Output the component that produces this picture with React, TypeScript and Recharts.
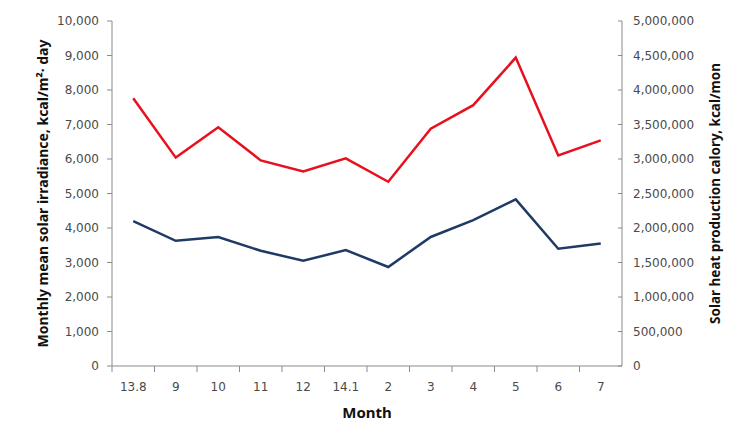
import { LineChart, Line, XAxis, YAxis } from "recharts";

const months = ["13.8", "9", "10", "11", "12", "14.1", "2", "3", "4", "5", "6", "7"];
// monthly mean solar irradiance, kcal/m²·day (left axis)
const irradiance = [4200, 3630, 3740, 3340, 3050, 3360, 2870, 3740, 4230, 4830, 3400, 3550];
// solar heat production, kcal/mon (right axis)
const production = [
  3880000, 3020000, 3460000, 2980000, 2820000, 3010000, 2670000, 3440000, 3780000, 4470000,
  3050000, 3270000,
];
const leftTicks = [0, 1000, 2000, 3000, 4000, 5000, 6000, 7000, 8000, 9000, 10000];
const rightTicks = [
  0, 500000, 1000000, 1500000, 2000000, 2500000, 3000000, 3500000, 4000000, 4500000, 5000000,
];

const W = 738;
const H = 433;
const LEFT_W = 112;
const RIGHT_W = 116;
const BAND = (W - LEFT_W - RIGHT_W) / months.length;

const tickFont = "'DejaVu Sans', sans-serif";
const titleFont = "'Noto Sans', sans-serif";
const axisGray = "#8a8a8a";
const textGray = "#4a4a4a";

const fmt = (v: number) => v.toLocaleString("en-US");

function XTick({ x, y, payload }: any) {
  return (
    <g>
      <line x1={x - BAND / 2} x2={x - BAND / 2} y1={y} y2={y + 6} stroke={axisGray} />
      <text x={x} y={y + 21} dy="0.35em" textAnchor="middle" fontSize={12} fontFamily={tickFont} fill={textGray}>
        {payload.value}
      </text>
    </g>
  );
}

function LeftTick({ x, y, payload }: any) {
  return (
    <g>
      <line x1={x - 5} x2={x} y1={y} y2={y} stroke={axisGray} />
      <text x={x - 13} y={y} dy="0.35em" textAnchor="end" fontSize={12} fontFamily={tickFont} fill={textGray}>
        {fmt(payload.value)}
      </text>
    </g>
  );
}

function RightTick({ x, y, payload }: any) {
  return (
    <g>
      <line x1={x - 4} x2={x} y1={y} y2={y} stroke={axisGray} />
      <text x={x + 11} y={y} dy="0.35em" textAnchor="start" fontSize={12} fontFamily={tickFont} fill={textGray}>
        {fmt(payload.value)}
      </text>
    </g>
  );
}

export default function App() {
  const data = months.map((m, i) => ({ month: m, irradiance: irradiance[i], production: production[i] }));

  return (
    <div style={{ position: "absolute", left: 0, top: 0, width: W, height: H, background: "#fff" }}>
      <LineChart width={W} height={H} data={data} margin={{ top: 21, right: 0, bottom: 0, left: 0 }}>
        <XAxis
          dataKey="month"
          height={67}
          padding={{ left: BAND / 2, right: BAND / 2 }}
          stroke={axisGray}
          tickLine={false}
          tickSize={0}
          tickMargin={0}
          tick={<XTick />}
          interval={0}
          label={{
            value: "Month",
            position: "center",
            dy: 13,
            style: { fontFamily: titleFont, fontWeight: 700, fontSize: 15, fill: "#111" },
          }}
        />
        <YAxis
          yAxisId="left"
          orientation="left"
          width={LEFT_W}
          domain={[0, 10000]}
          ticks={leftTicks}
          stroke={axisGray}
          tickLine={false}
          tickSize={0}
          tickMargin={0}
          tick={<LeftTick />}
          interval={0}
          label={{
            value: "Monthly mean solar irradiance,  kcal/m²· day",
            angle: -90,
            position: "center",
            dx: -13,
            style: { fontFamily: titleFont, fontWeight: 700, fontSize: 14, fill: "#111" },
          }}
        />
        <YAxis
          yAxisId="right"
          orientation="right"
          width={RIGHT_W}
          domain={[0, 5000000]}
          ticks={rightTicks}
          stroke={axisGray}
          tickLine={false}
          tickSize={0}
          tickMargin={0}
          tick={<RightTick />}
          interval={0}
          label={{
            value: "Solar heat production calory,  kcal/mon",
            angle: -90,
            position: "center",
            dx: 35,
            style: { fontFamily: titleFont, fontWeight: 700, fontSize: 13.5, fill: "#111" },
          }}
        />
        <Line
          yAxisId="right"
          dataKey="production"
          type="linear"
          stroke="#e8101e"
          strokeWidth={2.5}
          dot={false}
          isAnimationActive={false}
        />
        <Line
          yAxisId="left"
          dataKey="irradiance"
          type="linear"
          stroke="#1f3a64"
          strokeWidth={2.5}
          dot={false}
          isAnimationActive={false}
        />
      </LineChart>
    </div>
  );
}
